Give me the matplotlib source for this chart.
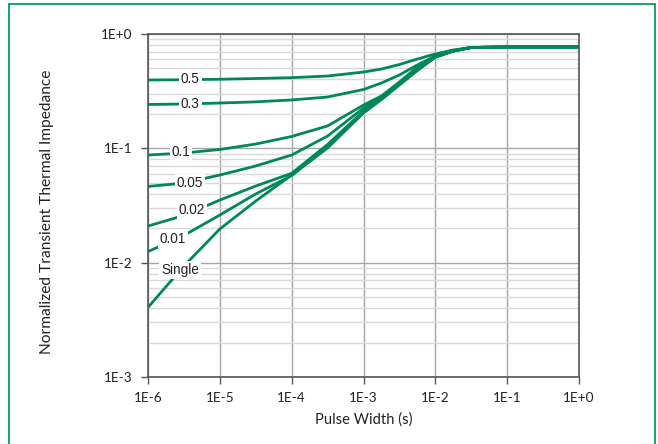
import matplotlib
matplotlib.use("Agg")
import matplotlib.pyplot as plt
from matplotlib.patches import Rectangle
from matplotlib.ticker import LogLocator, FixedLocator, NullFormatter

# pulse width (s)
pulse = [1e-6, 3.16e-6, 1e-5, 3.16e-5, 1e-4, 3.16e-4, 1e-3, 1.78e-3,
         3.16e-3, 5.62e-3, 1e-2, 1.78e-2, 3.16e-2, 1e-1, 1.0]

z_05 = [0.396, 0.398, 0.402, 0.408, 0.415, 0.429, 0.465, 0.494,
        0.541, 0.604, 0.669, 0.725, 0.762, 0.77, 0.77]
z_03 = [0.242, 0.244, 0.249, 0.255, 0.265, 0.281, 0.327, 0.373,
        0.438, 0.536, 0.642, 0.717, 0.762, 0.77, 0.77]
z_01 = [0.0874, 0.0910, 0.0977, 0.109, 0.127, 0.157, 0.239, 0.287,
        0.380, 0.514, 0.629, 0.710, 0.762, 0.77, 0.77]
z_005 = [0.0464, 0.0497, 0.0584, 0.0701, 0.0874, 0.128, 0.225, 0.281,
         0.373, 0.494, 0.629, 0.710, 0.762, 0.77, 0.77]
z_002 = [0.0209, 0.0259, 0.0353, 0.0468, 0.0605, 0.108, 0.212, 0.276,
         0.365, 0.489, 0.629, 0.710, 0.762, 0.77, 0.77]
z_001 = [0.0125, 0.0173, 0.0261, 0.0399, 0.0578, 0.1027, 0.206, 0.270,
         0.362, 0.484, 0.629, 0.710, 0.762, 0.77, 0.77]
z_single = [0.00406, 0.00935, 0.0197, 0.0346, 0.0584, 0.1007, 0.204, 0.267,
            0.358, 0.479, 0.629, 0.710, 0.762, 0.77, 0.77]

krivulje = [z_05, z_03, z_01, z_005, z_002, z_001, z_single]
oznake = ["0.5", "0.3", "0.1", "0.05", "0.02", "0.01", "Single"]
# where each label sits (x, y in data units)
oznaka_x = [3.85e-6, 3.85e-6, 2.88e-6, 3.85e-6, 4.10e-6, 2.21e-6, 2.79e-6]
oznaka_y = [0.404, 0.244, 0.0929, 0.0497, 0.0289, 0.0160, 0.00863]

x_ticks = [1e-6, 1e-5, 1e-4, 1e-3, 1e-2, 1e-1, 1e0]
x_labels = ["1E-6", "1E-5", "1E-4", "1E-3", "1E-2", "1E-1", "1E+0"]
y_ticks = [1e-3, 1e-2, 1e-1, 1e0]
y_labels = ["1E-3", "1E-2", "1E-1", "1E+0"]

zelena = "#00875A"

fig = plt.figure(figsize=(6.58, 4.44), dpi=100)
ax = fig.add_axes([148 / 658, 67 / 444, 431 / 658, 343 / 444])

# green frame round the whole picture
fig.patches.append(Rectangle((8.5 / 658, -0.02), 646.5 / 658, 1.02 - 4.5 / 444,
                             transform=fig.transFigure, fill=False,
                             edgecolor="#00A060", linewidth=1.3))

ax.set_xscale("log")
ax.set_yscale("log")
ax.set_xlim(1e-6, 1)
ax.set_ylim(1e-3, 1)

# grid
ax.yaxis.set_minor_locator(LogLocator(base=10, subs=range(2, 10)))
ax.yaxis.set_minor_formatter(NullFormatter())
ax.xaxis.set_minor_locator(FixedLocator([]))
ax.grid(True, which="major", axis="both", color="#a6a6a6", linewidth=1.0)
ax.grid(True, which="minor", axis="y", color="#d9d9d9", linewidth=1.0)
ax.set_axisbelow(True)
ax.tick_params(which="minor", length=0)

for k in krivulje:
    ax.plot(pulse, k, color=zelena, linewidth=2.0, solid_capstyle="butt",
            solid_joinstyle="round")

for t, lx, ly in zip(oznake, oznaka_x, oznaka_y):
    ax.text(lx, ly, t, ha="center", va="center", fontsize=9.8,
            family="Liberation Sans", color="#222222", zorder=5,
            bbox=dict(boxstyle="square,pad=0.15", facecolor="white",
                      edgecolor="none"))

ax.set_xticks(x_ticks)
ax.set_xticklabels(x_labels)
ax.set_yticks(y_ticks)
ax.set_yticklabels(y_labels)
ax.tick_params(which="major", direction="out", length=5, width=1,
               color="#555555", labelsize=9.8, labelcolor="#222222", pad=6)
for lbl in ax.get_xticklabels() + ax.get_yticklabels():
    lbl.set_family("Lato")

for s in ax.spines.values():
    s.set_color("#555555")
    s.set_linewidth(1.2)

ax.set_xlabel("Pulse Width (s)", fontsize=10.6, family="Lato", color="#222222",
              va="center")
ax.set_ylabel("Normalized Transient Thermal Impedance", fontsize=11.2,
              family="Lato", color="#222222", va="center")
ax.xaxis.set_label_coords(0.5, (377 - 420) / 343)
ax.yaxis.set_label_coords((47 - 148) / 431, 0.5 - 6 / 343)

plt.savefig("out.png", dpi=100)
